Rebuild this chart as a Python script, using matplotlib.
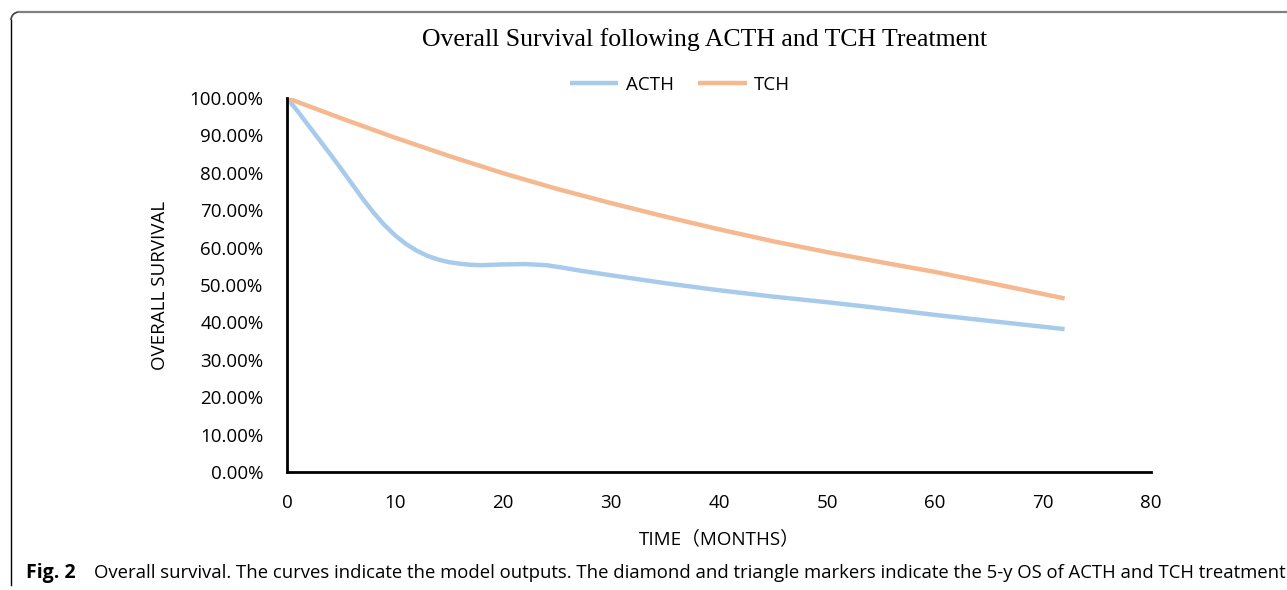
import matplotlib
matplotlib.use('Agg')
import matplotlib.pyplot as plt
from matplotlib.lines import Line2D
from matplotlib.patches import Arc
from matplotlib.ticker import PercentFormatter

plt.rcParams['font.family'] = ['Open Sans', 'Noto Sans CJK SC', 'DejaVu Sans']

# ACTH curve (months, survival fraction)
acth_months = [0, 1, 2, 3, 4, 5, 6, 7, 8, 9, 10, 11, 12, 13, 14, 15, 16, 17, 18,
               20, 22, 24, 25.6, 27, 30, 35, 40, 45, 50, 54, 60, 66, 72]
acth_os = [1.0, 0.964, 0.926, 0.888, 0.850, 0.811, 0.771, 0.731, 0.694, 0.661,
           0.633, 0.610, 0.592, 0.578, 0.568, 0.561, 0.557, 0.554, 0.553,
           0.555, 0.556, 0.553, 0.546, 0.539, 0.526, 0.505, 0.486, 0.469,
           0.454, 0.441, 0.420, 0.401, 0.382]

# TCH curve
tch_months = [0, 5, 10, 15, 20, 25, 30, 35, 40, 45, 50, 55, 60, 65, 72]
tch_os = [1.0, 0.946, 0.894, 0.845, 0.799, 0.757, 0.719, 0.683, 0.649, 0.617,
          0.588, 0.561, 0.535, 0.506, 0.464]

series_names = ['ACTH', 'TCH']
series_colors = ['#a9cbeb', '#f5b88f']

fs = 13.5

fig = plt.figure(figsize=(12.87, 5.9), dpi=100)
ax = fig.add_axes([287 / 1287, 1 - 472 / 590, (1151 - 287) / 1287, (472 - 98) / 590])

ax.plot(acth_months, acth_os, color=series_colors[0], lw=3.2, label=series_names[0],
        solid_capstyle='butt')
ax.plot(tch_months, tch_os, color=series_colors[1], lw=3.2, label=series_names[1],
        solid_capstyle='butt')

ax.set_xlim(0, 80)
ax.set_ylim(0, 1)
ax.set_xticks(range(0, 81, 10))
ax.set_yticks([i / 10 for i in range(11)])
ax.yaxis.set_major_formatter(PercentFormatter(1.0, decimals=2))
ax.tick_params(length=0, labelsize=fs, colors='black')
ax.tick_params(axis='x', pad=16)
ax.tick_params(axis='y', pad=17)
for s in ['top', 'right']:
    ax.spines[s].set_visible(False)
for s in ['left', 'bottom']:
    ax.spines[s].set_linewidth(2)
    ax.spines[s].set_color('black')

ax.set_xlabel('TIME（MONTHS）', fontsize=fs, labelpad=13)
ax.set_ylabel('OVERALL SURVIVAL', fontsize=fs, labelpad=15)

fig.text(705 / 1287, 1 - 40 / 590, 'Overall Survival following ACTH and TCH Treatment',
         ha='center', va='center', fontsize=18.5, family='Liberation Serif')

ax.legend(loc='center', bbox_to_anchor=(680 / 1287, 1 - 85 / 590),
          bbox_transform=fig.transFigure, ncol=2, frameon=False, fontsize=fs,
          handlelength=2.6, columnspacing=1.3, handletextpad=0.4)

# caption
fig.text(26 / 1287, 1 - 573 / 590, 'Fig. 2', fontweight='bold', fontsize=14,
         ha='left', va='center')
fig.text(94 / 1287, 1 - 573 / 590,
         'Overall survival. The curves indicate the model outputs. The diamond and '
         'triangle markers indicate the 5-y OS of ACTH and TCH treatment',
         fontsize=13.35, ha='left', va='center')

# frame around the figure panel
W, H = 1287, 590
r = 8
fig.add_artist(Line2D([(11 + r) / W, 1], [1 - 12 / H, 1 - 12 / H], color='#808080',
                      lw=1.6, transform=fig.transFigure))
fig.add_artist(Line2D([11 / W, 11 / W], [1 - (12 + r) / H, 1 - 585 / H], color='black',
                      lw=1.0, transform=fig.transFigure))
fig.add_artist(Arc(((11 + r) / W, 1 - (12 + r) / H), 2 * r / W, 2 * r / H,
                   theta1=90, theta2=180, color='#404040', lw=1.2,
                   transform=fig.transFigure))

fig.savefig('out.png', dpi=100)
